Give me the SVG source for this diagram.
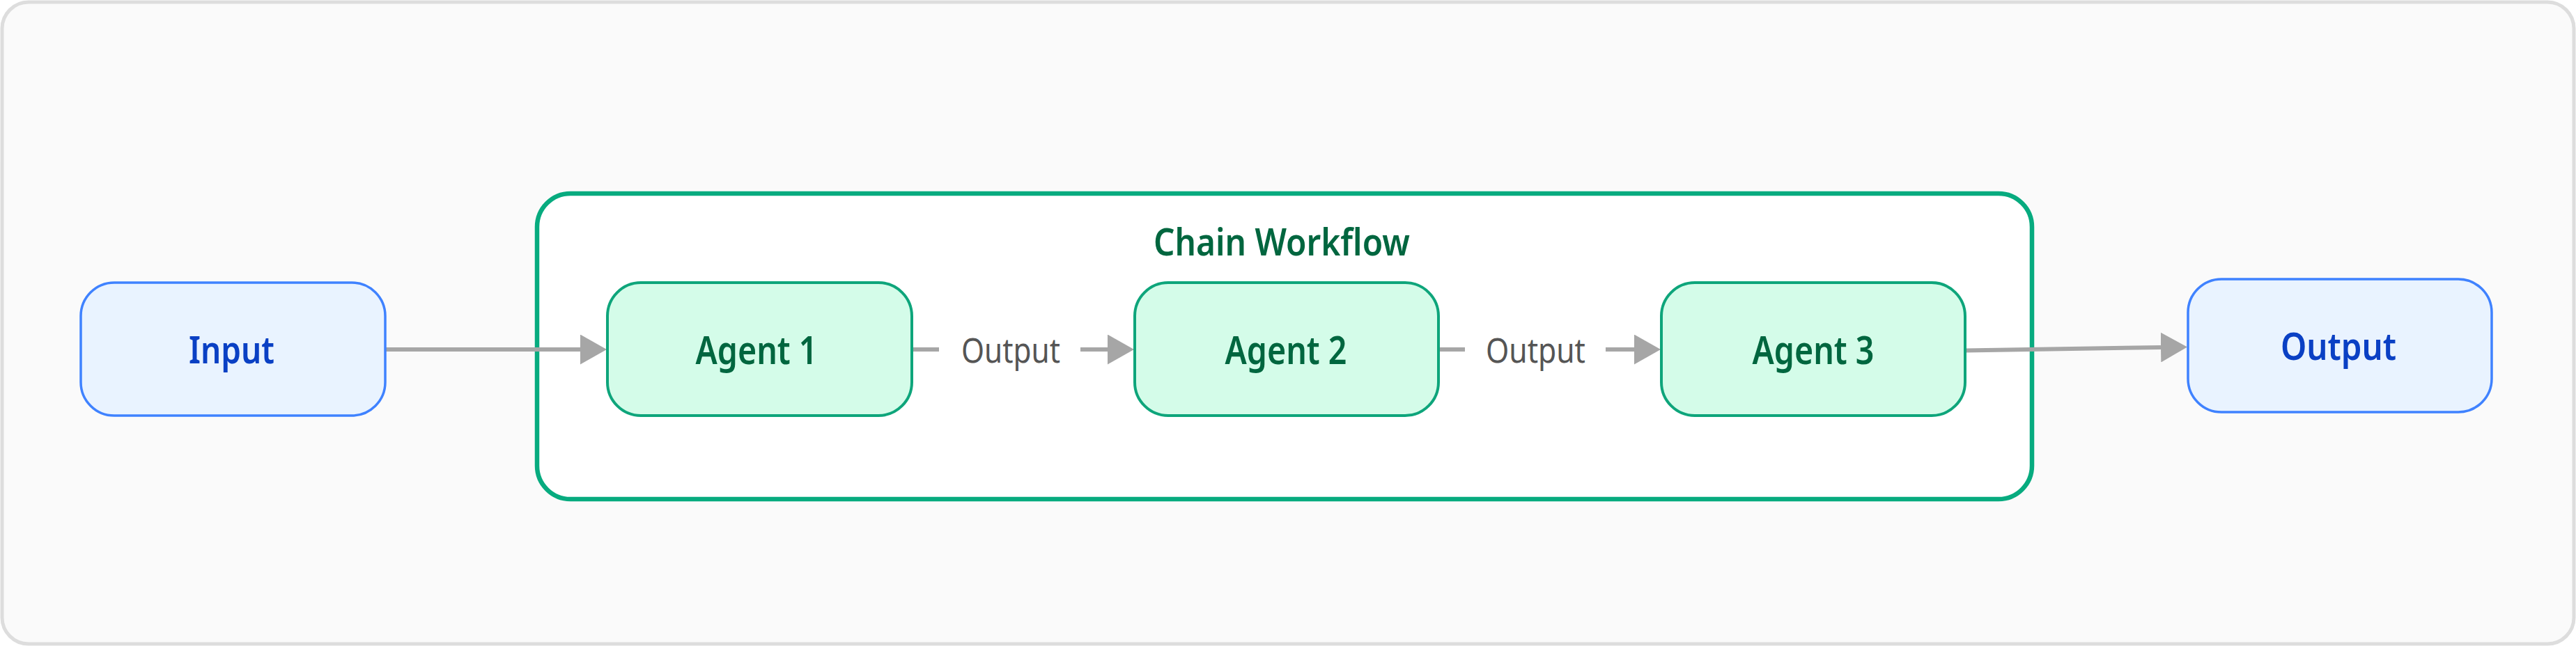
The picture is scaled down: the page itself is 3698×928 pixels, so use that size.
<svg xmlns="http://www.w3.org/2000/svg" width="3698" height="928" viewBox="0 0 3698 928">
<style>
.io rect{fill:#e9f3ff;stroke:#3f82ff;stroke-width:3.5}
.io text{fill:#0a40c4;font-family:"Noto Sans","Open Sans",sans-serif;font-weight:600;font-size:55px;text-anchor:middle}
.agent rect{fill:#d4fce9;stroke:#0ea57b;stroke-width:4}
.agent text{fill:#00663f;font-family:"Noto Sans","Open Sans",sans-serif;font-weight:600;font-size:56px;text-anchor:middle}
.edge{fill:none;stroke:#a6a6a6;stroke-width:6}
.elabel{fill:#555555;font-family:"Noto Sans","Open Sans",sans-serif;font-size:49px;text-anchor:middle}
.title{fill:#00663f;font-family:"Noto Sans","Open Sans",sans-serif;font-weight:600;font-size:55px;text-anchor:middle}
</style>
<defs>
<marker id="arrow" markerUnits="userSpaceOnUse" markerWidth="38" markerHeight="43" refX="0" refY="21.5" orient="auto" viewBox="0 0 38 43">
<path d="M0,0 L38,21.5 L0,43 Z" fill="#a6a6a6"/>
</marker>
</defs>
<rect x="3" y="3" width="3692" height="922" rx="38" fill="#fafafa" stroke="#dddddd" stroke-width="5"/>
<g id="chain-workflow">
<rect x="771" y="278" width="2146" height="439" rx="48" fill="#ffffff" stroke="#07ab7f" stroke-width="6.5"/>
<text class="title" x="1840" y="367" textLength="368" lengthAdjust="spacingAndGlyphs">Chain Workflow</text>
</g>
<g id="connectors">
<path class="edge" d="M553,502 L833,502" marker-end="url(#arrow)"/>
<path class="edge" d="M1309,502 L1590,502" marker-end="url(#arrow)"/>
<rect x="1348" y="470" width="203" height="64" fill="#ffffff"/>
<text class="elabel" x="1451" y="521" textLength="142" lengthAdjust="spacingAndGlyphs">Output</text>
<path class="edge" d="M2064,502 L2346,502" marker-end="url(#arrow)"/>
<rect x="2103" y="470" width="202" height="64" fill="#ffffff"/>
<text class="elabel" x="2204.5" y="521" textLength="143" lengthAdjust="spacingAndGlyphs">Output</text>
<path class="edge" d="M2821,503.5 L3102,499" marker-end="url(#arrow)"/>
</g>
<g id="input" class="io">
<rect x="116" y="406" width="437" height="191" rx="48"/>
<text x="332.5" y="522" textLength="123" lengthAdjust="spacingAndGlyphs">Input</text>
</g>
<g id="agent1" class="agent">
<rect x="872" y="406" width="437" height="191" rx="48"/>
<text x="1086" y="523" textLength="175" lengthAdjust="spacingAndGlyphs">Agent 1</text>
</g>
<g id="agent2" class="agent">
<rect x="1629" y="406" width="436" height="191" rx="48"/>
<text x="1846" y="523" textLength="175" lengthAdjust="spacingAndGlyphs">Agent 2</text>
</g>
<g id="agent3" class="agent">
<rect x="2385" y="406" width="436" height="191" rx="48"/>
<text x="2603" y="523" textLength="175" lengthAdjust="spacingAndGlyphs">Agent 3</text>
</g>
<g id="output" class="io">
<rect x="3141" y="401" width="436" height="191" rx="48"/>
<text x="3357" y="517" textLength="166" lengthAdjust="spacingAndGlyphs">Output</text>
</g>
</svg>
